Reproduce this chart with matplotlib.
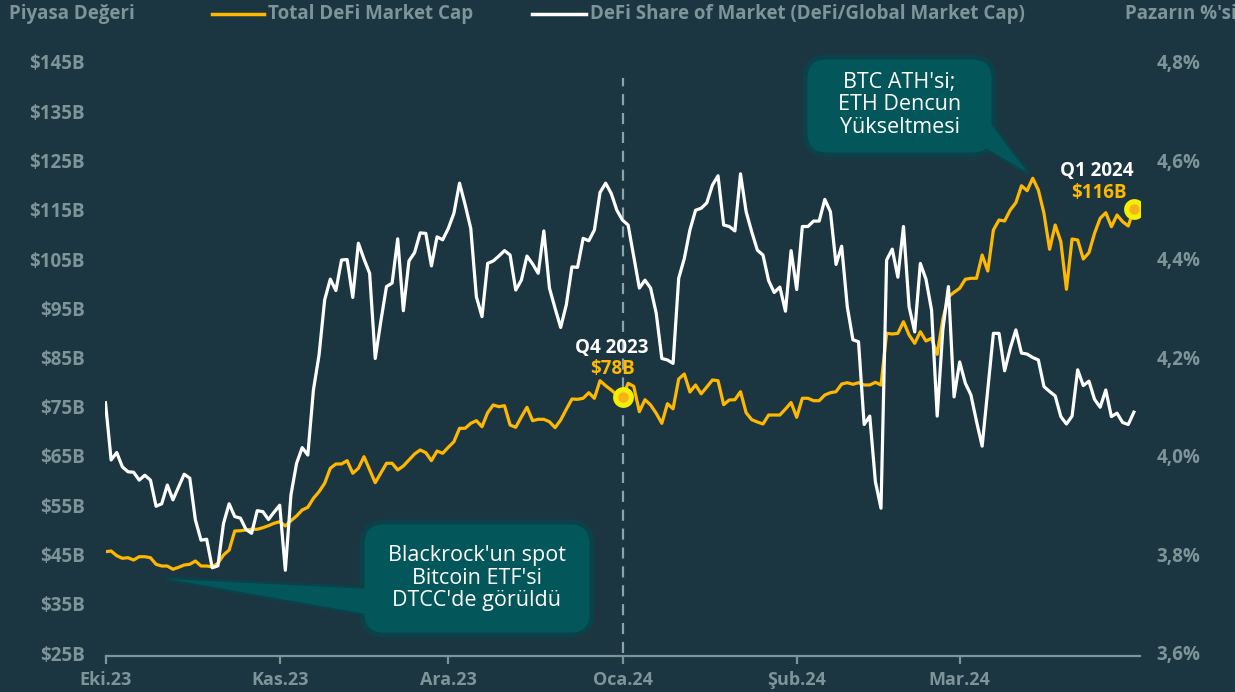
import numpy as np
import pandas as pd
import matplotlib
matplotlib.use("Agg")
import matplotlib.pyplot as plt
from matplotlib.patches import FancyBboxPatch, Polygon
from matplotlib.lines import Line2D

plt.rcParams['font.family'] = ['Open Sans', 'DejaVu Sans']

# Total DeFi market cap ($B), daily from 1 Oct 2023
defi_cap = [
    45.57, 45.71, 44.76, 44.23, 44.35, 43.88, 44.55, 44.55, 44.35, 43.01,
    42.66, 42.66, 42.00, 42.40, 42.87, 43.01, 43.68, 42.66, 42.66, 42.52,
    43.21, 44.90, 45.91, 49.77, 49.83, 49.97, 50.12, 50.12, 50.44, 50.85,
    51.34, 51.66, 50.79, 51.86, 52.82, 54.04, 54.58, 56.41, 57.75, 59.46,
    62.50, 63.38, 63.38, 64.05, 61.49, 62.50, 64.86, 62.22, 59.58, 61.55,
    63.52, 63.52, 62.16, 62.97, 64.19, 65.41, 66.22, 65.67, 64.05, 66.02,
    65.55, 66.77, 67.90, 70.62, 70.62, 71.64, 72.17, 70.95, 73.79, 75.36,
    75.01, 75.22, 71.29, 70.83, 72.92, 74.89, 72.17, 72.45, 72.45, 71.96,
    70.75, 72.31, 74.48, 76.57, 76.51, 76.72, 77.85, 76.72, 80.29, 79.27,
    78.40, 77.39, 77.00, 79.76, 79.15, 74.00, 76.43, 75.36, 73.67, 71.64,
    75.62, 74.58, 80.63, 81.65, 77.99, 79.42, 77.63, 79.01, 80.43, 80.29,
    75.42, 76.37, 76.43, 78.06, 73.79, 72.37, 71.90, 71.50, 73.32, 73.32,
    73.32, 74.54, 75.86, 72.86, 76.72, 76.72, 76.23, 76.23, 77.39, 77.85,
    78.06, 79.62, 79.88, 79.56, 79.88, 79.42, 79.42, 79.96, 79.42, 89.91,
    89.77, 89.91, 92.27, 89.57, 87.88, 90.24, 88.35, 88.90, 85.65, 92.76,
    97.34, 98.24, 99.05, 100.88, 101.08, 101.08, 105.81, 102.56, 110.89, 112.92,
    112.72, 114.95, 116.43, 119.88, 118.87, 121.39, 119.01, 114.28, 106.97, 111.90,
    108.51, 98.85, 109.06, 108.86, 105.00, 106.28, 110.22, 113.26, 114.40, 111.56,
    113.93, 112.57, 111.70, 115.20,
]

# DeFi share of global market cap (%)
defi_share = [
    4.108, 3.992, 4.007, 3.978, 3.968, 3.967, 3.951, 3.961, 3.951, 3.898,
    3.903, 3.941, 3.911, 3.937, 3.963, 3.955, 3.870, 3.829, 3.831, 3.773,
    3.777, 3.863, 3.903, 3.877, 3.874, 3.851, 3.843, 3.889, 3.887, 3.871,
    3.886, 3.900, 3.768, 3.921, 3.985, 4.017, 4.002, 4.134, 4.205, 4.317,
    4.359, 4.336, 4.398, 4.399, 4.322, 4.432, 4.400, 4.371, 4.198, 4.274,
    4.344, 4.351, 4.441, 4.295, 4.396, 4.413, 4.453, 4.452, 4.386, 4.445,
    4.439, 4.462, 4.493, 4.554, 4.510, 4.462, 4.323, 4.283, 4.391, 4.396,
    4.406, 4.417, 4.408, 4.337, 4.357, 4.406, 4.390, 4.371, 4.457, 4.341,
    4.300, 4.261, 4.307, 4.384, 4.383, 4.442, 4.437, 4.459, 4.535, 4.554,
    4.533, 4.499, 4.479, 4.469, 4.405, 4.341, 4.357, 4.341, 4.290, 4.198,
    4.195, 4.188, 4.361, 4.401, 4.459, 4.499, 4.503, 4.514, 4.550, 4.569,
    4.469, 4.466, 4.457, 4.573, 4.496, 4.455, 4.418, 4.408, 4.356, 4.332,
    4.343, 4.294, 4.417, 4.338, 4.466, 4.466, 4.477, 4.477, 4.521, 4.496,
    4.389, 4.426, 4.303, 4.236, 4.232, 4.064, 4.081, 3.948, 3.894, 4.398,
    4.420, 4.363, 4.466, 4.303, 4.252, 4.391, 4.359, 4.296, 4.081, 4.256,
    4.344, 4.120, 4.191, 4.148, 4.124, 4.070, 4.020, 4.135, 4.249, 4.249,
    4.173, 4.219, 4.256, 4.209, 4.207, 4.200, 4.195, 4.141, 4.131, 4.122,
    4.080, 4.065, 4.081, 4.175, 4.143, 4.152, 4.115, 4.099, 4.134, 4.080,
    4.087, 4.068, 4.064, 4.089,
]

dates = pd.date_range('2023-10-01', periods=len(defi_cap), freq='D')

month_ticks = pd.to_datetime(['2023-10-01', '2023-11-01', '2023-12-01',
                              '2024-01-01', '2024-02-01', '2024-03-01'])
month_labels = ['Eki.23', 'Kas.23', 'Ara.23', 'Oca.24', 'Şub.24', 'Mar.24']
cap_ticks = list(range(25, 146, 10))
share_ticks = [3.6, 3.8, 4.0, 4.2, 4.4, 4.6, 4.8]

bg = '#1b3641'
grey = '#7f9499'
gold = '#ffb800'
box_fill = '#03565a'
box_edge = '#0b424a'

W, H = 1235, 692
fig = plt.figure(figsize=(W / 100, H / 100), dpi=100, facecolor=bg)


def fx(x):
    return x / W


def fy(y):
    return 1 - y / H


ax = fig.add_axes([fx(105.5), fy(653), (1139.5 - 105.5) / W, (653 - 62) / H])
ax.set_facecolor(bg)
ax2 = ax.twinx()

ax.plot(dates, defi_cap, color=gold, lw=2.3, zorder=3)
ax2.plot(dates, defi_share, color='white', lw=2.3, zorder=3)

ax.set_xlim(dates[0], dates[0] + pd.Timedelta(days=184))
ax.set_ylim(25, 145)
ax2.set_ylim(3.6, 4.8)

ax.set_yticks(cap_ticks)
ax.set_yticklabels(['$%dB' % v for v in cap_ticks])
ax2.set_yticks(share_ticks)
ax2.set_yticklabels([('%.1f%%' % v).replace('.', ',') for v in share_ticks])
ax.set_xticks(month_ticks)
ax.set_xticklabels(month_labels)

for a in (ax, ax2):
    for s in a.spines.values():
        s.set_visible(False)
ax.spines['bottom'].set_visible(True)
ax.spines['bottom'].set_color(grey)
ax.spines['bottom'].set_linewidth(1.6)
ax.spines['bottom'].set_position(('outward', 2))

ax.tick_params(axis='y', length=0, pad=15, labelcolor=grey, labelsize=13.5)
ax2.tick_params(axis='y', length=0, pad=12, labelcolor=grey, labelsize=13.5)
ax.tick_params(axis='x', length=6, width=1.6, color=grey, pad=5,
               labelcolor=grey, labelsize=13)
for lab in ax.get_yticklabels() + ax.get_xticklabels() + ax2.get_yticklabels():
    lab.set_fontweight('bold')

# Quarter-end divider
ax.axvline(pd.Timestamp('2024-01-01'), ymin=0, ymax=0.973, color='#8ea2a7',
           lw=1.6, dashes=(5, 3.5), zorder=1)

# Quarter markers
q_idx = [92, len(defi_cap) - 1]
q_names = ['Q4 2023', 'Q1 2024']
q_vals = ['$78B', '$116B']
q_name_off = [(-8, 35), (-27, 27)]
q_val_off = [(-7, 20), (-25, 11)]
for i, name, val, no, vo in zip(q_idx, q_names, q_vals, q_name_off, q_val_off):
    ax.plot(dates[i], defi_cap[i], 'o', ms=15, color='#f4ee00', mec='none', zorder=5)
    ax.plot(dates[i], defi_cap[i], 'o', ms=7.5, color='#f7b21a', mec='none', zorder=6)
    ax.annotate(name, (dates[i], defi_cap[i]), xytext=no,
                textcoords='offset points', ha='center', va='center',
                color='white', fontsize=13.5, fontweight='bold', zorder=6)
    ax.annotate(val, (dates[i], defi_cap[i]), xytext=vo,
                textcoords='offset points', ha='center', va='center',
                color=gold, fontsize=13.5, fontweight='bold', zorder=6)


def callout(x0, y0, x1, y1, tail, text, cy):
    tail_pts = [(fx(px), fy(py)) for px, py in tail]
    fig.add_artist(Polygon(tail_pts, closed=True, transform=fig.transFigure,
                           facecolor=box_fill, edgecolor=box_edge, lw=3.5,
                           joinstyle='round', zorder=7))
    fig.add_artist(FancyBboxPatch((fx(x0), fy(y1)), fx(x1 - x0), (y1 - y0) / H,
                                  boxstyle='round,pad=0,rounding_size=0.018',
                                  transform=fig.transFigure, facecolor=box_fill,
                                  edgecolor=box_edge, lw=3.5, zorder=8,
                                  mutation_aspect=W / H))
    fig.add_artist(Polygon(tail_pts, closed=True, transform=fig.transFigure,
                           facecolor=box_fill, edgecolor='none', zorder=9))
    fig.text(fx((x0 + x1) / 2), fy(cy), text, ha='center', va='center',
             color='white', fontsize=15.5, linespacing=1.1, zorder=10)


callout(362, 522, 592, 635, [(372, 589), (168, 579), (372, 615)],
        "Blackrock'un spot\nBitcoin ETF'si\nDTCC'de görüldü", 578)
callout(805, 57, 994, 155, [(984, 115), (1027, 172), (984, 147)],
        "BTC ATH'si;\nETH Dencun\nYükseltmesi", 105)

# Header / legend
head = dict(color=grey, fontsize=13.5, fontweight='bold', ha='left', va='center')
fig.text(fx(9), fy(14), 'Piyasa Değeri', **head)
fig.add_artist(Line2D([fx(212), fx(264)], [fy(14), fy(14)], color=gold, lw=2.5,
                      transform=fig.transFigure))
fig.text(fx(268), fy(14), 'Total DeFi Market Cap', **head)
fig.add_artist(Line2D([fx(532), fx(586)], [fy(14), fy(14)], color='white', lw=2.5,
                      transform=fig.transFigure))
fig.text(fx(590), fy(14), 'DeFi Share of Market (DeFi/Global Market Cap)', **head)
fig.text(fx(1125), fy(14), "Pazarın %'si", **head)

fig.savefig('out.png', dpi=100, facecolor=bg)
